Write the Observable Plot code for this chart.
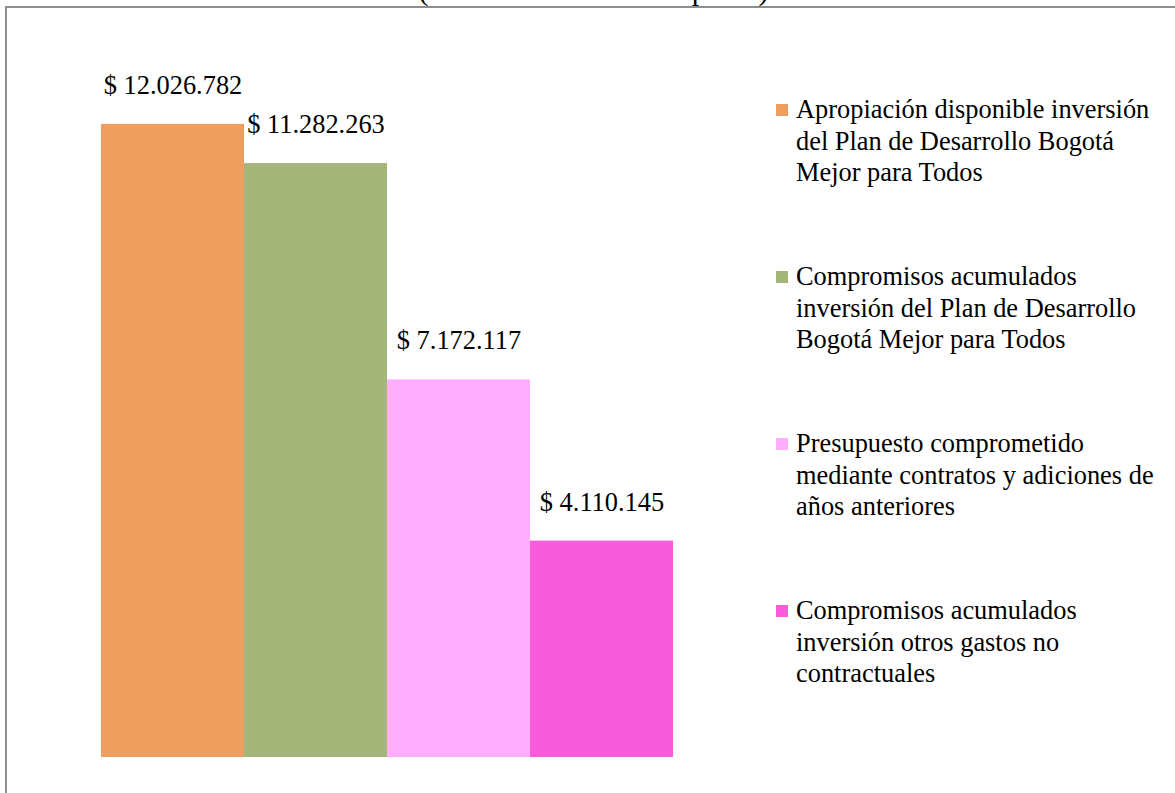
<!DOCTYPE html>
<html>
<head>
<meta charset="utf-8">
<script src="https://cdn.jsdelivr.net/npm/d3@7"></script>
<script src="https://cdn.jsdelivr.net/npm/@observablehq/plot@0.6"></script>
<style>
  html, body { margin: 0; padding: 0; background: #fff; }
  #wrap { position: relative; width: 1175px; height: 793px; overflow: hidden; font-family: "Liberation Serif", "Times New Roman", serif; }
  #frame { position: absolute; left: 5px; top: 6px; width: 1300px; height: 1000px; border: 2px solid #8e8e8e; box-sizing: border-box; }
  #title { position: absolute; left: 6px; width: 1175px; top: -23px; line-height: 25px; text-align: center; font-size: 30px; color: #000; }
  #chart { position: absolute; left: 0; top: 0; }
  #legend { position: absolute; left: 776px; top: 0; }
  .item { position: absolute; left: 0; width: 400px; }
  .sw { position: absolute; left: 0; width: 12px; height: 12px; }
  .lt { position: absolute; left: 20px; font-size: 26.4px; line-height: 31.5px; color: #000; white-space: nowrap; }
</style>
</head>
<body>
<div id="wrap">
  <div id="frame"></div>
  <div id="title"></div>
  <div id="chart"></div>
  <div id="legend"></div>
</div>
<script>
const categories = [
  "Apropiación disponible inversión del Plan de Desarrollo Bogotá Mejor para Todos",
  "Compromisos acumulados inversión del Plan de Desarrollo Bogotá Mejor para Todos",
  "Presupuesto comprometido mediante contratos y adiciones de años anteriores",
  "Compromisos acumulados inversión otros gastos no contractuales"
];
const legendLines = [
  ["Apropiación disponible inversión", "del Plan de Desarrollo Bogotá", "Mejor para Todos"],
  ["Compromisos acumulados", "inversión del Plan de Desarrollo", "Bogotá Mejor para Todos"],
  ["Presupuesto comprometido", "mediante contratos y adiciones de", "años anteriores"],
  ["Compromisos acumulados", "inversión otros gastos no", "contractuales"]
];
const values = [12026782, 11282263, 7172117, 4110145];
const colors = ["#EE9E5F", "#A5B67B", "#FFADFF", "#F95CDB"];
const titleText = "(Cifras en millones de pesos)";

const data = categories.map((c, i) => ({ cat: c, value: values[i] }));
const fmt = v => "$ " + d3.format(",")(v).replace(/,/g, ".");

document.getElementById("title").textContent = titleText;

const chart = Plot.plot({
  width: 1175,
  height: 793,
  marginLeft: 101,
  marginRight: 502,
  marginTop: 20,
  marginBottom: 36,
  style: { background: "transparent", fontFamily: "'Liberation Serif', 'Times New Roman', serif" },
  x: { domain: categories, padding: 0, axis: null },
  y: { domain: [0, 14000000], axis: null },
  color: { domain: categories, range: colors },
  marks: [
    Plot.barY(data, { x: "cat", y: "value", fill: "cat", inset: 0 }),
    Plot.text(data, {
      x: "cat", y: "value", text: d => fmt(d.value),
      dy: -39, fontSize: 26.4, fill: "#000", textAnchor: "middle"
    })
  ]
});
document.getElementById("chart").appendChild(chart);

const legend = document.getElementById("legend");
categories.forEach((c, i) => {
  const item = document.createElement("div");
  item.className = "item";
  item.style.top = (94 + i * 167) + "px";
  const sw = document.createElement("div");
  sw.className = "sw";
  sw.style.top = "10px";
  sw.style.background = colors[i];
  const t = document.createElement("div");
  t.className = "lt";
  t.innerHTML = legendLines[i].join("<br>");
  item.appendChild(sw);
  item.appendChild(t);
  legend.appendChild(item);
});
</script>
</body>
</html>
